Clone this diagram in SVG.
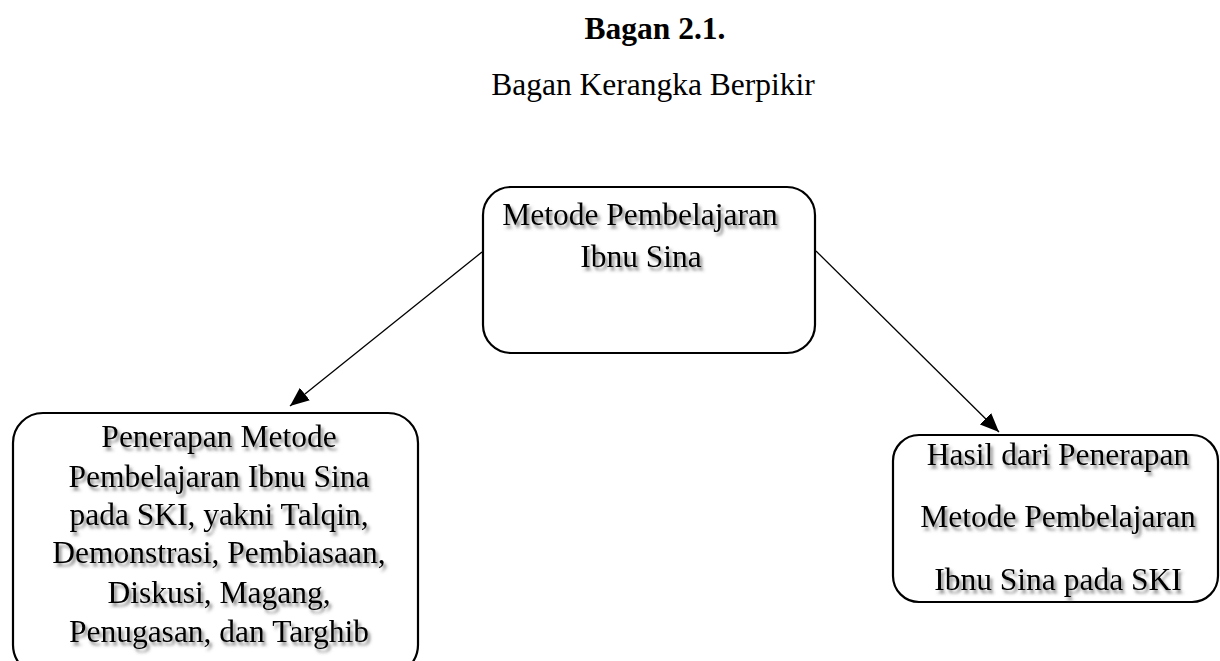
<svg xmlns="http://www.w3.org/2000/svg" width="1220" height="661" viewBox="0 0 1220 661">
<style>
.box{fill:#fff;stroke:#000;stroke-width:2.2}
.t{font-family:"Liberation Serif","Times New Roman",serif;font-size:31.5px;fill:#000;text-anchor:middle}
.nt{filter:url(#sh)}
.conn{stroke:#000;stroke-width:1.3;fill:none;marker-end:url(#arr)}
</style>
<defs>
<filter id="sh" x="-10%" y="-30%" width="120%" height="160%">
<feDropShadow dx="2.5" dy="3.5" stdDeviation="1.8" flood-color="#444" flood-opacity="0.65"/>
</filter>
<marker id="arr" markerUnits="userSpaceOnUse" markerWidth="20" markerHeight="16" refX="19" refY="8" orient="auto">
<path d="M0,0 L19,8 L0,16 z" fill="#000"/>
</marker>
</defs>
<rect width="1220" height="661" fill="#fff"/>
<text class="t" x="655" y="39" font-weight="bold">Bagan 2.1.</text>
<text class="t" x="653" y="95">Bagan Kerangka Berpikir</text>
<g id="connectors">
<line class="conn" x1="482" y1="252" x2="290" y2="406"/>
<line class="conn" x1="816" y1="251" x2="999" y2="432"/>
</g>
<g id="node-top">
<rect class="box" x="483" y="187" width="332" height="166" rx="28"/>
<g class="nt">
<text class="t" x="640" y="225">Metode Pembelajaran</text>
<text class="t" x="641" y="267">Ibnu Sina</text>
</g>
</g>
<g id="node-left">
<rect class="box" x="13" y="413" width="405" height="262" rx="30"/>
<g class="nt">
<text class="t" x="219" y="447">Penerapan Metode</text>
<text class="t" x="219" y="487">Pembelajaran Ibnu Sina</text>
<text class="t" x="219" y="525">pada SKI, yakni Talqin,</text>
<text class="t" x="219" y="563">Demonstrasi, Pembiasaan,</text>
<text class="t" x="219" y="603">Diskusi, Magang,</text>
<text class="t" x="219" y="642">Penugasan, dan Targhib</text>
</g>
</g>
<g id="node-right">
<rect class="box" x="893" y="435" width="325" height="167" rx="26"/>
<g class="nt">
<text class="t" x="1058" y="465">Hasil dari Penerapan</text>
<text class="t" x="1058" y="527">Metode Pembelajaran</text>
<text class="t" x="1058" y="590">Ibnu Sina pada SKI</text>
</g>
</g>
</svg>
